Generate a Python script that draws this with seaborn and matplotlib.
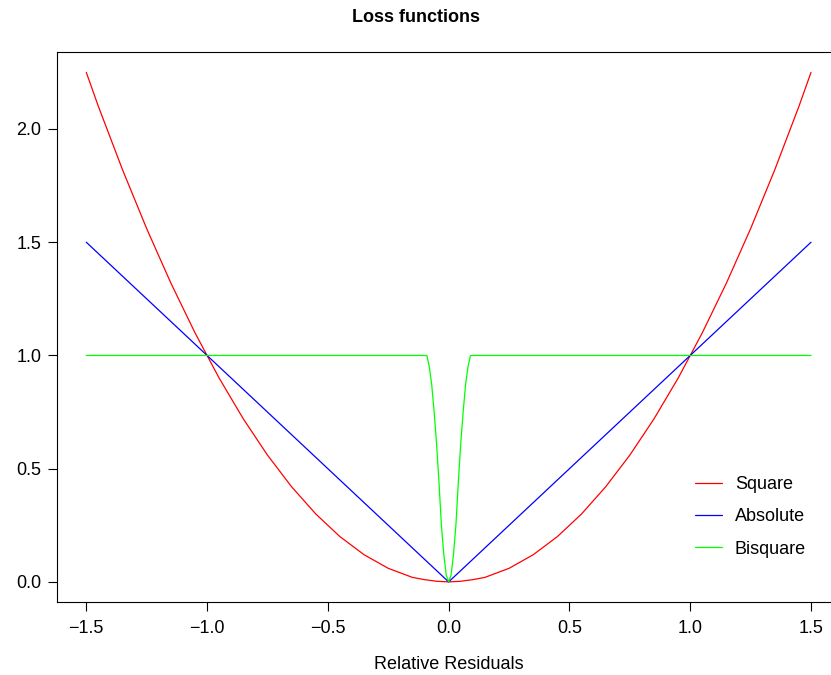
import pandas as pd
import matplotlib
matplotlib.use("Agg")
import matplotlib.pyplot as plt
import seaborn as sns

# Values
sq_x = [-1.5, -1.45, -1.4, -1.35, -1.3, -1.25, -1.2, -1.15, -1.1, -1.05, -1.0,
        -0.95, -0.9, -0.85, -0.8, -0.75, -0.7, -0.65, -0.6, -0.55, -0.5,
        -0.45, -0.4, -0.35, -0.3, -0.25, -0.2, -0.15, -0.1, -0.05, 0.0,
        0.05, 0.1, 0.15, 0.2, 0.25, 0.3, 0.35, 0.4, 0.45, 0.5,
        0.55, 0.6, 0.65, 0.7, 0.75, 0.8, 0.85, 0.9, 0.95, 1.0,
        1.05, 1.1, 1.15, 1.2, 1.25, 1.3, 1.35, 1.4, 1.45, 1.5]
sq_y = [2.25, 2.10, 1.96, 1.82, 1.69, 1.56, 1.44, 1.32, 1.21, 1.10, 1.0,
        0.90, 0.81, 0.72, 0.64, 0.56, 0.49, 0.42, 0.36, 0.30, 0.25,
        0.20, 0.16, 0.12, 0.09, 0.06, 0.04, 0.02, 0.01, 0.003, 0.0,
        0.003, 0.01, 0.02, 0.04, 0.06, 0.09, 0.12, 0.16, 0.20, 0.25,
        0.30, 0.36, 0.42, 0.49, 0.56, 0.64, 0.72, 0.81, 0.90, 1.0,
        1.10, 1.21, 1.32, 1.44, 1.56, 1.69, 1.82, 1.96, 2.10, 2.25]

abs_x = [-1.5, -1.0, 0.0, 1.0, 1.5]
abs_y = [1.5, 1.0, 0.0, 1.0, 1.5]

bis_x = [-1.5, -0.1, -0.09, -0.08, -0.07, -0.06, -0.05, -0.04, -0.03, -0.02, -0.01, 0.0,
         0.01, 0.02, 0.03, 0.04, 0.05, 0.06, 0.07, 0.08, 0.09, 0.1, 1.5]
bis_y = [1.0, 1.0, 0.999, 0.95, 0.87, 0.75, 0.61, 0.44, 0.25, 0.12, 0.03, 0.0,
         0.03, 0.12, 0.25, 0.44, 0.61, 0.75, 0.87, 0.95, 0.999, 1.0, 1.0]

labels = ['Square', 'Absolute', 'Bisquare']
colors = ['#FF0000', '#0000FF', '#00FF00']

df = pd.concat([
    pd.DataFrame({'x': sq_x, 'y': sq_y, 'loss': 'Square'}),
    pd.DataFrame({'x': abs_x, 'y': abs_y, 'loss': 'Absolute'}),
    pd.DataFrame({'x': bis_x, 'y': bis_y, 'loss': 'Bisquare'}),
])

sns.set_theme(style='ticks')
plt.rcParams['font.family'] = ['Liberation Sans', 'DejaVu Sans']
plt.rcParams.update({'text.color': 'black', 'axes.labelcolor': 'black',
                     'xtick.color': 'black', 'ytick.color': 'black'})

fig = plt.figure(figsize=(8.31, 6.75), dpi=100)
# the plot box runs a little past the right edge of the picture, as in the reference
ax = fig.add_axes([57.3 / 831, (675 - 602.3) / 675, (840 - 57.3) / 831, (602.3 - 52) / 675])

sns.lineplot(data=df, x='x', y='y', hue='loss', hue_order=labels,
             palette=dict(zip(labels, colors)), estimator=None, sort=False,
             linewidth=0.9, ax=ax)

ax.set_xlim(-1.62, 1.62)
ax.set_ylim(-0.09, 2.34)
ax.set_xticks([-1.5, -1.0, -0.5, 0.0, 0.5, 1.0, 1.5])
ax.set_xticklabels(['\u22121.5', '\u22121.0', '\u22120.5', '0.0', '0.5', '1.0', '1.5'])
ax.set_yticks([0.0, 0.5, 1.0, 1.5, 2.0])
ax.set_yticklabels(['0.0', '0.5', '1.0', '1.5', '2.0'])
ax.tick_params(axis='both', direction='out', length=6.5, width=0.8, labelsize=13,
               color='black', labelcolor='black')
ax.tick_params(axis='x', pad=6)
ax.tick_params(axis='y', pad=5)
for s in ax.spines.values():
    s.set_visible(True)
    s.set_linewidth(0.8)
    s.set_color('black')

ax.set_xlabel('Relative Residuals', fontsize=13, labelpad=14, color='black')
ax.set_ylabel('')
fig.suptitle('Loss functions', fontsize=13, fontweight='bold', y=1 - 17 / 675,
             va='center', color='black')

leg = ax.legend(title=None, frameon=False, fontsize=13, loc='upper left',
                bbox_to_anchor=(695 / 831, 1 - 476 / 675), bbox_transform=fig.transFigure,
                borderaxespad=0, borderpad=0, handlelength=1.5, handletextpad=0.7,
                labelspacing=0.85)
for t in leg.get_texts():
    t.set_color('black')

fig.savefig('out.png', dpi=100)
